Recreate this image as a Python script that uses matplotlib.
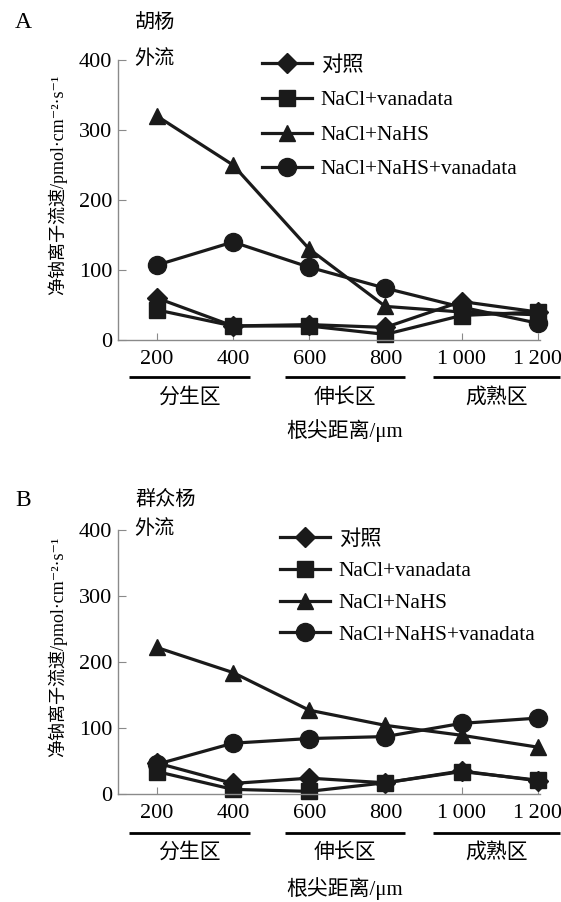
import matplotlib
matplotlib.use('Agg')
import matplotlib.pyplot as plt
import matplotlib.transforms as mtransforms

plt.rcParams['font.family'] = ['Liberation Serif', 'Noto Sans CJK SC', 'DejaVu Sans']

dist = [200, 400, 600, 800, 1000, 1200]
tick_labels = ['200', '400', '600', '800', '1\u2009000', '1\u2009200']
series = ['对照', 'NaCl+vanadata', 'NaCl+NaHS', 'NaCl+NaHS+vanadata']
markers = ['D', 's', '^', 'o']
msizes = [10, 12, 12, 13]

# 胡杨
a_ctrl = [60, 20, 22, 18, 55, 40]
a_van = [43, 20, 20, 8, 35, 40]
a_nahs = [320, 250, 130, 48, 40, 36]
a_all = [107, 140, 104, 74, 47, 24]

# 群众杨
b_ctrl = [47, 16, 24, 17, 35, 20]
b_van = [34, 7, 4, 17, 34, 21]
b_nahs = [222, 184, 127, 104, 89, 71]
b_all = [45, 77, 84, 87, 107, 115]

zones = ['分生区', '伸长区', '成熟区']
zone_spans = [(127, 444), (536, 851), (924, 1258)]

W, H = 561, 902
fig = plt.figure(figsize=(W / 100, H / 100), dpi=100)


def px(x, y):
    return x / W, 1 - y / H


def panel(top, bottom, data, letter, species, ytitle_y, lay):
    ax = fig.add_axes([118 / W, 1 - bottom / H, (540 - 118) / W, (bottom - top) / H])
    for vals, m, ms, lab in zip(data, markers, msizes, series):
        ax.plot(dist, vals, color='#1a1a1a', lw=2.3, marker=m, ms=ms,
                label=lab, clip_on=False)
    ax.set_xlim(98, 1206)
    ax.set_ylim(0, 400)
    ax.set_yticks([0, 100, 200, 300, 400])
    ax.set_xticks(dist)
    ax.set_xticklabels(tick_labels)
    for s in ['top', 'right']:
        ax.spines[s].set_visible(False)
    for s in ['left', 'bottom']:
        ax.spines[s].set_color('#8a8a8a')
        ax.spines[s].set_linewidth(1.0)
    ax.tick_params(axis='y', direction='in', length=6, color='#8a8a8a',
                   labelsize=16, pad=4)
    ax.tick_params(axis='x', direction='in', length=5, color='#8a8a8a',
                   labelsize=16, pad=7)
    h = bottom - top
    trans = mtransforms.blended_transform_factory(ax.transData, ax.transAxes)
    line_y = -(lay['line'] - bottom) / h
    lab_y = -(lay['zone'] - bottom) / h
    for name, (x0, x1) in zip(zones, zone_spans):
        ax.plot([x0, x1], [line_y, line_y], color='black', lw=2.0,
                transform=trans, clip_on=False, solid_capstyle='butt')
        ax.text((x0 + x1) / 2, lab_y, name, transform=trans, ha='center',
                va='center', fontsize=15)
    ax.text(693, -(lay['xlab'] - bottom) / h, '根尖距离/μm',
            transform=trans, ha='center', va='center', fontsize=15)
    fig.text(*px(57, (top + bottom) / 2 - 15), '净钠离子流速/pmol·cm⁻²·s⁻¹',
             rotation=90, ha='center', va='center', fontsize=13)
    fig.text(*px(15, ytitle_y), letter, ha='left', va='center', fontsize=17)
    fig.text(*px(135, ytitle_y), species, ha='left', va='center', fontsize=14.5)
    fig.text(*px(134, top - 1), '外流', ha='left', va='center', fontsize=14.5)
    ax.legend(loc='upper left', bbox_to_anchor=px(lay['x'], lay['y']),
              bbox_transform=fig.transFigure, frameon=False, fontsize=15.3,
              borderpad=0, borderaxespad=0, handlelength=2.35,
              handletextpad=0.42, labelspacing=lay['sp'])
    return ax


panel(60, 340, [a_ctrl, a_van, a_nahs, a_all], 'A', '胡杨', 23,
      dict(line=377, zone=398, xlab=431, x=262, y=56, sp=0.69))
panel(530, 794, [b_ctrl, b_van, b_nahs, b_all], 'B', '群众杨', 500,
      dict(line=833, zone=853, xlab=889, x=280, y=530, sp=0.55))

fig.savefig('out.png', dpi=100)
